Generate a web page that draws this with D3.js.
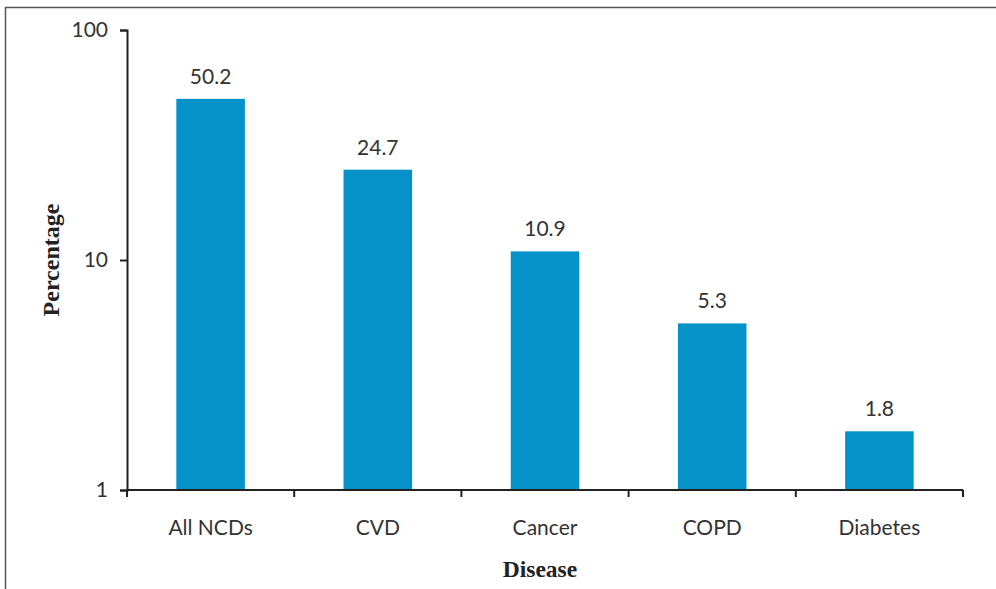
<!DOCTYPE html>
<html>
<head>
<meta charset="utf-8">
<script src="https://cdn.jsdelivr.net/npm/d3@7"></script>
<style>
  body { margin: 0; background: #fff; }
  svg { display: block; }
</style>
</head>
<body>
<div id="chart"></div>
<script>
const diseases = ['All NCDs', 'CVD', 'Cancer', 'COPD', 'Diabetes'];
const percentages = [50.2, 24.7, 10.9, 5.3, 1.8];
const yTicks = [1, 10, 100];

const width = 996;
const height = 589;
const margin = { left: 127, right: 33, top: 30, bottom: 99 };

const svg = d3.select('#chart')
  .append('svg')
  .attr('width', width)
  .attr('height', height);

// outer frame
svg.append('rect')
  .attr('x', 5.5)
  .attr('y', 7.5)
  .attr('width', width)
  .attr('height', height)
  .attr('fill', 'none')
  .attr('stroke', '#555')
  .attr('stroke-width', 1.5);

const x = d3.scaleBand()
  .domain(diseases)
  .range([margin.left, width - margin.right])
  .paddingInner(0)
  .paddingOuter(0);

const y = d3.scaleLog()
  .domain([1, 100])
  .range([height - margin.bottom, margin.top]);

const barW = x.bandwidth() * 0.41;

svg.selectAll('.bar')
  .data(percentages)
  .enter()
  .append('rect')
  .attr('class', 'bar')
  .attr('fill', '#0592c9')
  .attr('x', (d, i) => x(diseases[i]) + (x.bandwidth() - barW) / 2)
  .attr('y', d => y(d))
  .attr('width', barW)
  .attr('height', d => y(1) - y(d));

svg.selectAll('.value')
  .data(percentages)
  .enter()
  .append('text')
  .attr('class', 'value')
  .text(d => d.toFixed(1))
  .attr('text-anchor', 'middle')
  .attr('font-family', 'Lato, sans-serif')
  .attr('font-size', '21px')
  .attr('fill', '#333')
  .attr('x', (d, i) => x(diseases[i]) + x.bandwidth() / 2)
  .attr('y', d => y(d) - 15);

// x axis: ticks at band boundaries
const xAxisG = svg.append('g')
  .attr('transform', 'translate(0,' + y(1) + ')');
xAxisG.append('line')
  .attr('x1', margin.left).attr('x2', width - margin.right)
  .attr('stroke', '#222').attr('stroke-width', 2);
const bounds = diseases.map(d => x(d)).concat([width - margin.right]);
xAxisG.selectAll('.xtick')
  .data(bounds)
  .enter()
  .append('line')
  .attr('x1', d => d).attr('x2', d => d)
  .attr('y1', 0).attr('y2', 7)
  .attr('stroke', '#222').attr('stroke-width', 2);
xAxisG.selectAll('.xlabel')
  .data(diseases)
  .enter()
  .append('text')
  .text(d => d)
  .attr('text-anchor', 'middle')
  .attr('font-family', 'Lato, sans-serif')
  .attr('font-size', '21px')
  .attr('fill', '#333')
  .attr('x', d => x(d) + x.bandwidth() / 2)
  .attr('y', 45);

const yAxis = d3.axisLeft(y)
  .tickValues(yTicks)
  .tickFormat(d3.format('d'))
  .tickSize(7)
  .tickPadding(12);

const yAxisG = svg.append('g')
  .attr('transform', 'translate(' + margin.left + ',0)')
  .call(yAxis);
yAxisG.select('.domain').attr('stroke', '#222').attr('stroke-width', 2);
yAxisG.selectAll('.tick line').attr('stroke', '#222').attr('stroke-width', 2);
yAxisG.selectAll('.tick text')
  .attr('font-family', 'Lato, sans-serif')
  .attr('font-size', '21px')
  .attr('fill', '#333');

svg.append('text')
  .text('Disease')
  .attr('text-anchor', 'middle')
  .attr('font-family', '"Liberation Serif", serif')
  .attr('font-weight', 'bold')
  .attr('font-size', '23.5px')
  .attr('fill', '#222')
  .attr('x', 540)
  .attr('y', 577);

svg.append('text')
  .text('Percentage')
  .attr('text-anchor', 'middle')
  .attr('font-family', '"Liberation Serif", serif')
  .attr('font-weight', 'bold')
  .attr('font-size', '24px')
  .attr('fill', '#222')
  .attr('transform', 'translate(59,260) rotate(-90)');
</script>
</body>
</html>
